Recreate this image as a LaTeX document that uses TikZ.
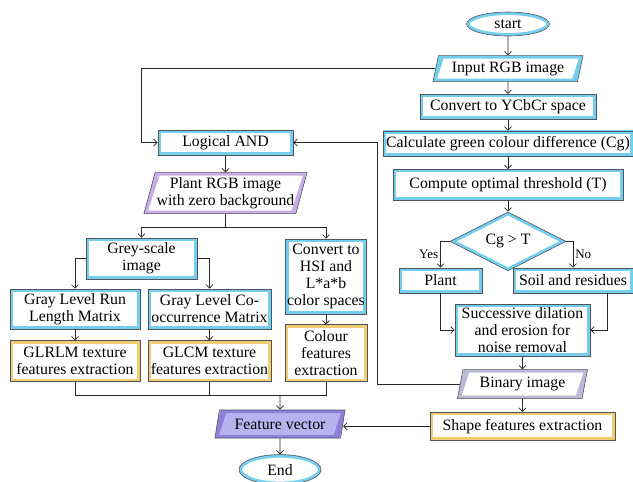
\documentclass[tikz,border=0pt]{standalone}
\usepackage{fontspec}
\setmainfont{Liberation Serif}
\usepackage{xcolor}
\usepackage{tikz}
\usetikzlibrary{arrows.meta,positioning,shapes.geometric,calc}
\definecolor{edgegray}{RGB}{80,84,92}
\definecolor{linegray}{RGB}{40,40,40}
\definecolor{glowblue}{RGB}{118,206,238}
\definecolor{glowgold}{RGB}{242,204,112}
\definecolor{glowlilac}{RGB}{204,172,230}
\definecolor{glowslate}{RGB}{186,186,214}
\definecolor{fvfill}{RGB}{184,178,238}
\definecolor{glowviolet}{RGB}{140,128,218}
\newcommand{\boxfont}{\fontsize{15.8}{17}\selectfont}
\tikzset{
  box/.style={draw=edgegray,line width=0.6pt,fill=white,inner sep=1.5pt,
    align=center,font=\boxfont},
  % inner glow along the border, clipped to the shape
  rectglow/.style={path picture={\draw[#1,line width=6pt]
    (path picture bounding box.south west) rectangle
    (path picture bounding box.north east);}},
  slantglow/.style={path picture={\draw[#1,line width=6pt]
    let \p1=(path picture bounding box.south west),
        \p2=(path picture bounding box.north east) in
    (\x1,\y1) -- ({\x1+0.325*(\y2-\y1)},\y2) -- (\x2,\y2)
    -- ({\x2-0.325*(\y2-\y1)},\y1) -- cycle;}},
  diamglow/.style={path picture={\draw[#1,line width=6pt]
    (path picture bounding box.north) -- (path picture bounding box.east)
    -- (path picture bounding box.south) -- (path picture bounding box.west)
    -- cycle;}},
  ovalglow/.style={path picture={\draw[#1,line width=6pt]
    let \p1=(path picture bounding box.south west),
        \p2=(path picture bounding box.north east) in
    (path picture bounding box.center) ellipse
    [x radius={0.5*\x2-0.5*\x1}, y radius={0.5*\y2-0.5*\y1}];}},
  % flowchart blocks
  bluebox/.style={box,rectangle,rectglow=glowblue,minimum height=25pt},
  featbox/.style={box,rectangle,rectglow=glowgold,minimum height=41pt},
  databox/.style={box,trapezium,trapezium left angle=72,
    trapezium right angle=108,trapezium stretches body,slantglow=#1},
  decide/.style={box,diamond,inner sep=0pt,diamglow=glowblue},
  term/.style={box,ellipse,inner sep=0pt,ovalglow=glowblue},
  arr/.style={draw=linegray,line width=0.7pt,-{Straight Barb[length=3.5pt,width=7pt]}},
  link/.style={draw=linegray,line width=0.7pt},
  lbl/.style={font=\fontsize{13}{14}\selectfont,inner sep=2pt},
}
\begin{document}
\begin{tikzpicture}[x=1pt,y=-1pt]
\useasboundingbox (0,0) rectangle (633,482);

%% ---- right column: segmentation ----
\node[term,minimum width=83pt,minimum height=24pt] (start) at (508,24) {start};
\node[databox=glowblue,below=19pt of start,minimum width=150pt,minimum height=26pt] (input) {Input RGB image};
\node[bluebox,below=12pt of input,minimum width=176pt] (ycbcr) {Convert to YCbCr space};
\node[bluebox,below=11pt of ycbcr,minimum width=250pt] (cgdiff) {Calculate green colour difference (Cg)};
\node[bluebox,below=13pt of cgdiff,minimum width=230pt,minimum height=31pt] (thresh) {Compute optimal threshold (T)};
\node[decide,below=11pt of thresh,minimum width=116pt,minimum height=52pt] (test) {Cg > T};
\node[bluebox,minimum width=83pt] (plant) at (440.5,280.5) {Plant};
\node[bluebox,minimum width=120pt] (soil) at (573,280.5) {Soil and residues};
\node[bluebox,minimum width=135pt,minimum height=52pt] (dilate) at (522.5,330)
  {Successive dilation\\and erosion for\\noise removal};
\node[databox=glowslate,below=13pt of dilate,minimum width=130pt,minimum height=29pt] (binary) {Binary image};
\node[featbox,below=13pt of binary,minimum width=185pt,minimum height=28pt] (shapef) {Shape features extraction};

%% ---- left column: features ----
\node[bluebox,minimum width=135pt] (land) at (225.5,142.5) {Logical AND};
\node[databox=glowlilac,below=17pt of land,minimum width=162pt,minimum height=41pt] (plantrgb)
  {Plant RGB image\\with zero background};
\node[bluebox,minimum width=111pt,minimum height=41pt] (grey) at (141.5,258.5) {Grey-scale\\image};
\node[bluebox,minimum width=130pt,minimum height=40pt] (glrlm) at (75,309) {Gray Level Run\\Length Matrix};
\node[bluebox,minimum width=123pt,minimum height=40pt] (glcm) at (209.5,309) {Gray Level Co-\\occurrence Matrix};
\node[featbox,below=11pt of glrlm,minimum width=130pt] (glrlmf) {GLRLM texture\\features extraction};
\node[featbox,below=11pt of glcm,minimum width=123pt] (glcmf) {GLCM texture\\features extraction};
\node[bluebox,minimum width=80pt,minimum height=75pt] (hsi) at (326,276.5)
  {Convert to\\HSI and\\L*a*b\\color spaces};
\node[featbox,below=10pt of hsi,minimum width=82pt,minimum height=57pt] (colf) {Colour\\features\\extraction};
\node[databox=glowviolet,fill=fvfill,minimum width=130pt,minimum height=28pt] (fvec) at (280,424) {Feature vector};
\node[term,below=16pt of fvec,minimum width=82pt,minimum height=30pt] (stop) {End};

%% ---- connectors ----
\draw[arr] (start) -- (input);
\draw[arr] (input) -- (ycbcr);
\draw[arr] (ycbcr) -- (cgdiff);
\draw[arr] (cgdiff) -- (thresh);
\draw[arr] (thresh) -- (test);
\draw[arr] (test.west) -| node[pos=0.75,left,lbl] {Yes} (plant.north);
\draw[arr] (test.east) -| node[pos=0.75,right,lbl] {No} (soil.north);
\draw[arr] (plant.south) |- (dilate.west);
\draw[arr] ([xshift=34pt]soil.south) |- (dilate.east);
\draw[arr] (dilate) -- (binary);
\draw[arr] (binary) -- (shapef);
\draw[arr] (shapef.west) -- (fvec.east |- shapef.west);
\draw[arr] (input.west) -| ([xshift=-16pt]land.west) -- (land.west);
\draw[arr] (binary.west) -| ([xshift=84pt]land.east) -- (land.east);
\draw[arr] (land) -- (plantrgb);
\coordinate (split) at ([yshift=-13pt]plantrgb.south);
\draw[link] (plantrgb.south) -- (split);
\draw[arr] (split) -| (grey.north);
\draw[arr] (split) -| (hsi.north);
\draw[arr] (grey.west) -| (glrlm.north);
\draw[arr] (grey.east) -| (glcm.north);
\draw[arr] (glrlm) -- (glrlmf);
\draw[arr] (glcm) -- (glcmf);
\draw[arr] (hsi) -- (colf);
\coordinate (merge) at ([yshift=14pt]fvec.north);
\draw[link] (glrlmf.south) |- (merge) -| (colf.south);
\draw[link] (glcmf.south) -- (glcmf.south |- merge);
\draw[arr] (merge) -- (fvec);
\draw[arr] (fvec) -- (stop);
\end{tikzpicture}
\end{document}
